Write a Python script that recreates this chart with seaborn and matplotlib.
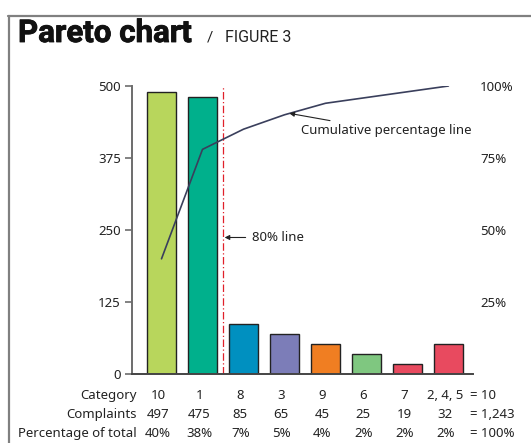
import numpy as np
import pandas as pd
import matplotlib
matplotlib.use("Agg")
import matplotlib.pyplot as plt
from matplotlib.lines import Line2D
import matplotlib.patheffects as pe
import seaborn as sns

# ---- data ----
categories = ["10", "1", "8", "3", "9", "6", "7", "2, 4, 5"]
bar_heights = [490, 481, 86, 69, 52, 34, 17, 52]          # drawn heights
cumulative_pct = [40, 78, 85, 90, 94, 96, 98, 100]         # cumulative percentage line
complaints_labels = ["497", "475", "85", "65", "45", "25", "19", "32"]
percent_labels = ["40%", "38%", "7%", "5%", "4%", "2%", "2%", "2%"]
totals = ["= 10", "= 1,243", "= 100%"]
row_labels = ["Category", "Complaints", "Percentage of total"]
left_ticks = [0, 125, 250, 375, 500]
right_ticks = [25, 50, 75, 100]
colors = ["#b8d65c", "#00b08c", "#0090c0", "#7c7db8", "#f07e22", "#7fc780", "#e84a5f", "#e84a5f"]

sns.set_theme(style="white")
plt.rcParams["font.family"] = ["Noto Sans", "DejaVu Sans"]

W, H = 531, 443
fig = plt.figure(figsize=(W / 100, H / 100), dpi=100)
ax = fig.add_axes([132 / W, 1 - 374 / H, (473 - 132) / W, (374 - 86) / H])

df = pd.DataFrame({"category": categories, "value": bar_heights})
sns.barplot(data=df, x="category", y="value", hue="category", order=categories,
            hue_order=categories, palette=colors, legend=False, ax=ax,
            width=0.71, edgecolor="#222222", linewidth=1.0, saturation=1)

ax.set_xlim(-0.72, 7.6)
ax.set_ylim(0, 500)
ax.set_yticks(left_ticks)
ax.set_yticklabels([str(t) for t in left_ticks], fontsize=9.5, color="#222222")
ax.set_xticks([])
ax.set_xlabel("")
ax.set_ylabel("")
ax.tick_params(axis="y", which="both", left=True, length=5, width=1.2, color="#6d6d6d", pad=3)
for s in ["top", "right"]:
    ax.spines[s].set_visible(False)
ax.spines["left"].set_color("#6d6d6d")
ax.spines["left"].set_linewidth(1.4)
ax.spines["bottom"].set_color("#444444")
ax.spines["bottom"].set_linewidth(1.4)

# 80% line
ax.vlines(1.5, 0, 500, colors="#e0202a", linestyles=(0, (6, 2, 1, 2)), linewidth=0.9)

# cumulative line on twin axis
ax2 = ax.twinx()
dfl = pd.DataFrame({"pos": np.arange(len(categories)), "cum": cumulative_pct})
sns.lineplot(data=dfl, x="pos", y="cum", ax=ax2, color="#3a3f5c", linewidth=1.2)
ax2.set_ylim(0, 100)
ax2.set_xlim(-0.72, 7.6)
ax2.set_yticks(right_ticks)
ax2.set_yticklabels([f"{t}%" for t in right_ticks], fontsize=9.5, color="#222222")
ax2.tick_params(axis="y", right=False, length=0, pad=5)
ax2.set_ylabel("")
ax2.set_xlabel("")
for s in ["top", "right", "left", "bottom"]:
    ax2.spines[s].set_visible(False)

# annotations
ax.annotate("80% line", xy=(1.54, 237), xytext=(2.2, 237), fontsize=9.5, color="#222222",
            va="center", ha="left",
            arrowprops=dict(arrowstyle="-|>", color="#222222", lw=0.8, mutation_scale=7,
                            shrinkA=2, shrinkB=0))
ax2.annotate("Cumulative percentage line", xy=(3.12, 90.5), xytext=(3.4, 84.5),
             fontsize=9.5, color="#222222", va="center", ha="left",
             arrowprops=dict(arrowstyle="-|>", color="#222222", lw=0.8, mutation_scale=7,
                             shrinkA=1, shrinkB=0))

# table below
tr = ax.get_xaxis_transform()
row_y = [-0.073, -0.139, -0.205]
rows = [categories, complaints_labels, percent_labels]
for ry, lab, vals, tot in zip(row_y, row_labels, rows, totals):
    ax.text(-0.6, ry, lab, transform=tr, ha="right", va="center", fontsize=9.5,
            color="#222222", clip_on=False)
    for i, v in enumerate(vals):
        ax.text(i - 0.08, ry, v, transform=tr, ha="center", va="center", fontsize=9.5,
                color="#222222", clip_on=False)
    ax.text(7.52, ry, tot, transform=tr, ha="left", va="center", fontsize=9.5,
            color="#222222", clip_on=False)

# frame
fig.add_artist(Line2D([9 / W, 9 / W], [0, 1 - 16 / H], transform=fig.transFigure,
                      color="#808080", linewidth=1.6))
fig.add_artist(Line2D([8.2 / W, 1], [1 - 16 / H, 1 - 16 / H], transform=fig.transFigure,
                      color="#808080", linewidth=1.6))

# title
fig.text(18 / W, 1 - 42 / H, "Pareto chart", fontsize=22.5, fontweight="bold",
         family=["Roboto", "DejaVu Sans"], color="#111111", ha="left", va="baseline",
         path_effects=[pe.withStroke(linewidth=0.6, foreground="#111111")])
fig.text(207 / W, 1 - 42 / H, "/", fontsize=11,
         family=["Roboto", "DejaVu Sans"], color="#222222", ha="left", va="baseline")
fig.text(225 / W, 1 - 42 / H, "FIGURE 3", fontsize=11.5, fontstretch="condensed",
         family=["Roboto", "DejaVu Sans"], color="#222222", ha="left", va="baseline")

fig.savefig("out.png", dpi=100)
